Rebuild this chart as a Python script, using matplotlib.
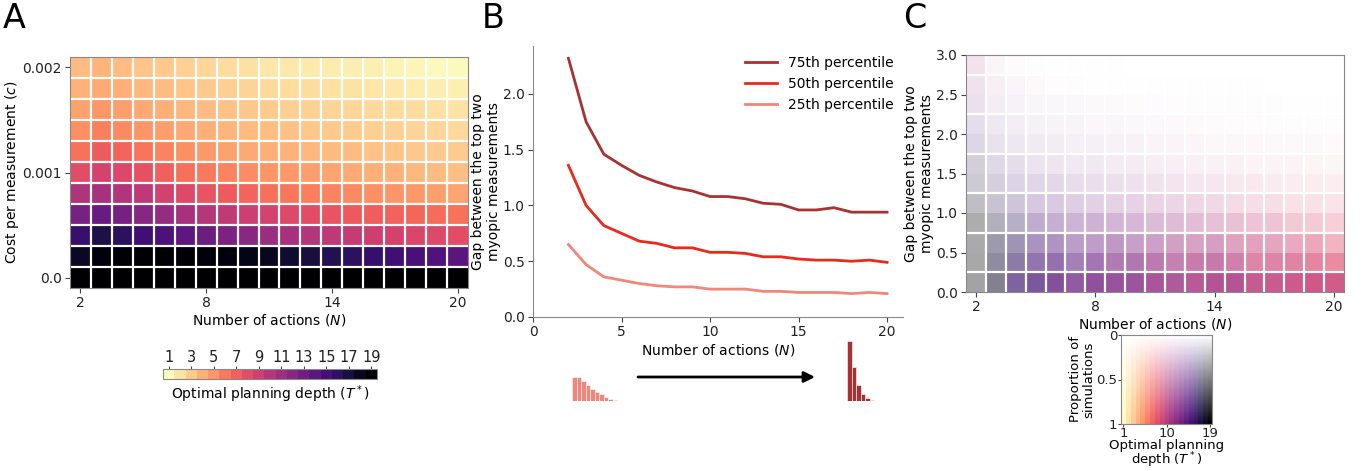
import numpy as np
import matplotlib
matplotlib.use("Agg")
import matplotlib.pyplot as plt
from matplotlib.colors import BoundaryNorm, ListedColormap
from matplotlib.cm import ScalarMappable

# ---- data ----
n_actions = [2, 3, 4, 5, 6, 7, 8, 9, 10, 11, 12, 13, 14, 15, 16, 17, 18, 19, 20]
cost_values = [0.0, 0.0002, 0.0004, 0.0006, 0.0008, 0.001, 0.0012, 0.0014, 0.0016, 0.0018, 0.002]
cost_ticks = [0.0, 0.001, 0.002]
cost_ticklabels = ["0.0", "0.001", "0.002"]

# optimal planning depth, rows = cost (bottom to top), cols = N
depth_a = [
    [19, 19, 19, 19, 19, 19, 19, 19, 19, 19, 19, 19, 19, 19, 19, 19, 19, 19, 19],
    [17.8, 18.6, 18.8, 18.8, 18.8, 18.8, 18.7, 18.5, 18.2, 17.9, 17.4, 16.9, 16.4, 16.0, 15.6, 15.2, 14.8, 14.4, 14.0],
    [15.5, 16.7, 16.0, 15.2, 14.6, 13.8, 13.2, 12.5, 11.9, 11.2, 10.6, 10.1, 9.7, 9.3, 9.0, 8.7, 8.4, 8.2, 7.9],
    [12.7, 13.4, 12.8, 12.0, 11.4, 10.6, 10.0, 9.5, 9.0, 8.6, 8.2, 7.9, 7.6, 7.3, 7.1, 6.9, 6.7, 6.5, 6.3],
    [10.3, 10.7, 10.2, 9.6, 8.8, 8.2, 7.6, 7.2, 6.8, 6.4, 6.1, 5.8, 5.6, 5.4, 5.2, 5.0, 4.8, 4.6, 4.4],
    [8.0, 8.6, 8.3, 7.8, 7.0, 6.4, 6.0, 5.6, 5.3, 5.0, 4.8, 4.6, 4.4, 4.2, 4.0, 3.9, 3.7, 3.6, 3.4],
    [6.3, 7.2, 6.8, 6.2, 5.6, 5.2, 4.8, 4.5, 4.3, 4.0, 3.9, 3.7, 3.6, 3.5, 3.3, 3.2, 3.1, 3.0, 2.9],
    [5.2, 5.8, 5.4, 5.0, 4.6, 4.3, 4.0, 3.8, 3.6, 3.4, 3.3, 3.1, 3.0, 2.9, 2.8, 2.7, 2.6, 2.5, 2.4],
    [4.5, 4.9, 4.6, 4.3, 4.0, 3.7, 3.5, 3.3, 3.1, 2.9, 2.8, 2.7, 2.6, 2.5, 2.4, 2.3, 2.2, 2.1, 2.0],
    [3.9, 4.2, 4.0, 3.7, 3.5, 3.2, 3.0, 2.8, 2.6, 2.4, 2.3, 2.2, 2.1, 2.0, 1.9, 1.8, 1.7, 1.6, 1.5],
    [3.5, 3.8, 3.5, 3.2, 3.0, 2.7, 2.5, 2.3, 2.1, 1.9, 1.8, 1.75, 1.7, 1.6, 1.5, 1.4, 1.3, 1.2, 1.1],
]

p75 = [2.32, 1.75, 1.46, 1.36, 1.27, 1.21, 1.16, 1.13, 1.08, 1.08, 1.06, 1.02, 1.01, 0.96, 0.96, 0.98, 0.94, 0.94, 0.94]
p50 = [1.36, 1.00, 0.82, 0.75, 0.68, 0.66, 0.62, 0.62, 0.58, 0.58, 0.57, 0.54, 0.54, 0.52, 0.51, 0.51, 0.50, 0.51, 0.49]
p25 = [0.65, 0.47, 0.36, 0.33, 0.30, 0.28, 0.27, 0.27, 0.25, 0.25, 0.25, 0.23, 0.23, 0.22, 0.22, 0.22, 0.21, 0.22, 0.21]

hist_n2 = [0.19, 0.19, 0.16, 0.13, 0.10, 0.075, 0.053, 0.032, 0.016, 0.006, 0.003, 0.001]
hist_n20 = [0.48, 0.27, 0.13, 0.06, 0.025, 0.011, 0.004, 0.002, 0.001, 0.0006, 0.0004, 0.0002]

gap_edges = [0.0, 0.25, 0.5, 0.75, 1.0, 1.25, 1.5, 1.75, 2.0, 2.25, 2.5, 2.75, 3.0]

# mean optimal depth per (gap bin, N), rows bottom to top
depth_c = [
    [19, 17.5, 15.5, 15, 14, 13.5, 13, 12.5, 12.3, 11.5, 11.3, 10.7, 10.8, 10.7, 9.8, 9.6, 9.4, 9.2, 9.2],
    [19, 17, 16, 15, 14.5, 14, 13.5, 12.5, 12.3, 11.5, 11, 10.5, 10.5, 10, 9.2, 9.2, 9, 8.8, 8.2],
    [19, 17, 16, 15, 14.5, 14, 13.3, 12.8, 12.3, 11.8, 11.2, 10.6, 10.5, 9.8, 9.5, 9.3, 8.8, 8.5, 8.0],
    [19, 17, 16, 15, 14.3, 13.8, 13, 12.5, 12, 11.5, 11, 10.5, 10.3, 9.8, 9.5, 9.2, 8.8, 8.6, 8.2],
    [18, 16.5, 15.5, 14.5, 14, 13.3, 12.8, 12.3, 11.8, 11.3, 10.8, 10.3, 10, 9.5, 9.2, 9, 8.6, 8.4, 8],
    [17, 16, 15, 14.5, 14, 13.3, 12.8, 12.3, 11.8, 11.3, 10.8, 10.3, 10, 9.5, 9.2, 9, 8.6, 8.4, 8],
    [16.5, 15.5, 14.5, 14, 13.5, 13, 12.5, 12, 11.5, 11, 10.5, 10, 9.7, 9.3, 9, 8.7, 8.4, 8.2, 8],
    [15.5, 15, 14.5, 14, 13.5, 13, 12.5, 12, 11.5, 11, 10.5, 10, 9.7, 9.3, 9, 8.7, 8.4, 8.2, 8],
    [14.5, 13.5, 14, 13.5, 13, 12.5, 12, 11.5, 11, 10.5, 10, 9.5, 9, 8.8, 8.6, 8.4, 8.2, 8, 7.8],
    [13.5, 12.5, 12, 13, 12.5, 12, 11.5, 11, 10.5, 10, 9.7, 9.4, 9, 8.7, 8.4, 8.1, 7.8, 7.6, 7.5],
    [12, 10.5, 10, 9, 9, 9, 9, 9, 9, 9, 9, 9, 9, 9, 9, 9, 9, 9, 9],
    [10.5, 9, 8, 7, 7, 7, 7, 7, 7, 7, 7, 7, 7, 7, 7, 7, 7, 7, 7],
]
# proportion of simulations per (gap bin, N)
prop_c = [
    [0.36, 0.52, 0.65, 0.70, 0.75, 0.72, 0.78, 0.78, 0.78, 0.80, 0.78, 0.80, 0.82, 0.83, 0.82, 0.83, 0.84, 0.86, 0.84],
    [0.34, 0.48, 0.55, 0.58, 0.60, 0.55, 0.60, 0.60, 0.62, 0.62, 0.60, 0.64, 0.65, 0.63, 0.62, 0.63, 0.64, 0.64, 0.63],
    [0.33, 0.42, 0.45, 0.45, 0.45, 0.42, 0.43, 0.46, 0.44, 0.44, 0.45, 0.45, 0.47, 0.46, 0.47, 0.46, 0.45, 0.47, 0.42],
    [0.32, 0.33, 0.34, 0.34, 0.34, 0.32, 0.34, 0.33, 0.33, 0.32, 0.32, 0.32, 0.31, 0.31, 0.30, 0.30, 0.28, 0.28, 0.26],
    [0.26, 0.25, 0.24, 0.23, 0.23, 0.22, 0.21, 0.20, 0.21, 0.20, 0.20, 0.20, 0.19, 0.18, 0.17, 0.17, 0.16, 0.16, 0.15],
    [0.22, 0.20, 0.18, 0.17, 0.17, 0.15, 0.15, 0.14, 0.14, 0.13, 0.13, 0.12, 0.12, 0.11, 0.11, 0.10, 0.10, 0.10, 0.10],
    [0.20, 0.16, 0.14, 0.12, 0.11, 0.10, 0.10, 0.09, 0.09, 0.08, 0.08, 0.07, 0.07, 0.07, 0.06, 0.06, 0.06, 0.06, 0.05],
    [0.17, 0.12, 0.10, 0.09, 0.08, 0.07, 0.07, 0.06, 0.06, 0.05, 0.05, 0.05, 0.04, 0.04, 0.04, 0.035, 0.03, 0.03, 0.03],
    [0.14, 0.10, 0.07, 0.06, 0.05, 0.05, 0.04, 0.04, 0.035, 0.03, 0.03, 0.025, 0.02, 0.015, 0.012, 0.01, 0.01, 0.008, 0.008],
    [0.13, 0.08, 0.06, 0.04, 0.035, 0.03, 0.025, 0.02, 0.017, 0.015, 0.012, 0.01, 0.009, 0.008, 0.007, 0.006, 0.005, 0.004, 0.004],
    [0.13, 0.08, 0.05, 0.03, 0.012, 0.008, 0.005, 0.004, 0.003, 0.002, 0.002, 0.001, 0.001, 0.001, 0.001, 0.0, 0.0, 0.0, 0.0],
    [0.14, 0.05, 0.02, 0.01, 0.003, 0.002, 0.001, 0.001, 0.0, 0.0, 0.0, 0.0, 0.0, 0.0, 0.0, 0.0, 0.0, 0.0, 0.0],
]

W, H = 1364, 471
plt.rcParams["font.family"] = ["DejaVu Sans"]
plt.rcParams["font.size"] = 10
plt.rcParams["xtick.labelsize"] = 10
plt.rcParams["ytick.labelsize"] = 10
plt.rcParams["axes.edgecolor"] = "#888888"
plt.rcParams["xtick.color"] = "#444444"
plt.rcParams["ytick.color"] = "#444444"
plt.rcParams["xtick.labelcolor"] = "#222222"
plt.rcParams["ytick.labelcolor"] = "#222222"
plt.rcParams["xtick.major.pad"] = 2.5
plt.rcParams["ytick.major.pad"] = 2.5

fig = plt.figure(figsize=(W / 100, H / 100), dpi=100)


def px_axes(left, top, right, bottom):
    return fig.add_axes([left / W, 1 - bottom / H, (right - left) / W, (bottom - top) / H])


cmap = plt.get_cmap("magma_r")
dx = 0.5
dc = 0.0001

# ---- panel A ----
ax_a = px_axes(70, 57, 468, 288)
ax_a.imshow(np.array(depth_a), cmap=cmap, vmin=1, vmax=19, origin="lower", aspect="auto",
            extent=[n_actions[0] - dx, n_actions[-1] + dx, cost_values[0] - dc, cost_values[-1] + dc],
            interpolation="nearest")
ax_a.set_xticks([2, 8, 14, 20])
ax_a.set_yticks(cost_ticks)
ax_a.set_yticklabels(cost_ticklabels)
ax_a.set_xticks([n + dx for n in n_actions[:-1]], minor=True)
ax_a.set_yticks([c + dc for c in cost_values[:-1]], minor=True)
ax_a.grid(which="minor", color="white", lw=1.6)
ax_a.tick_params(which="minor", length=0)
ax_a.set_xlabel("Number of actions ($N$)", labelpad=1)
ax_a.set_ylabel("Cost per measurement ($c$)")
ax_a.yaxis.set_label_coords(-0.122, 0.5)

# discrete colorbar
cax = px_axes(163, 369, 377, 379)
bounds = np.arange(0.5, 20.5, 1)
dcmap = ListedColormap(cmap(np.linspace(0, 1, 19)))
sm = ScalarMappable(norm=BoundaryNorm(bounds, dcmap.N), cmap=dcmap)
cb = fig.colorbar(sm, cax=cax, orientation="horizontal", ticks=list(range(1, 20, 2)))
cb.outline.set_edgecolor("#888888")
cax.xaxis.set_ticks_position("top")
cax.xaxis.set_label_position("bottom")
cax.tick_params(length=2, pad=1, labelsize=10.5)
cax.minorticks_off()
cb.set_label("Optimal planning depth ($T^*$)", labelpad=3)

# ---- panel B ----
ax_b = px_axes(533, 46, 903, 317)
ax_b.plot(n_actions, p75, color="#a83232", lw=2, label="75th percentile")
ax_b.plot(n_actions, p50, color="#e8291c", lw=2, label="50th percentile")
ax_b.plot(n_actions, p25, color="#f1877a", lw=2, label="25th percentile")
ax_b.set_xlim(0, 20.9)
ax_b.set_ylim(0, 2.43)
ax_b.set_xticks([0, 5, 10, 15, 20])
ax_b.set_yticks([0.0, 0.5, 1.0, 1.5, 2.0])
ax_b.spines["top"].set_visible(False)
ax_b.spines["right"].set_visible(False)
ax_b.set_xlabel("Number of actions ($N$)", labelpad=2)
ax_b.set_ylabel("Gap between the top two\nmyopic measurements", labelpad=1)
ax_b.legend(loc="upper right", frameon=False, fontsize=10, handlelength=2.3,
            borderaxespad=0.3)

h1 = px_axes(572, 338.5, 626, 401)
h1.bar(range(len(hist_n2)), hist_n2, width=1, color="#f1877a", edgecolor="white", lw=0.4)
h2 = px_axes(847, 338.5, 901, 401)
h2.bar(range(len(hist_n20)), hist_n20, width=1, color="#a83232", edgecolor="white", lw=0.4)
for h in (h1, h2):
    h.set_xlim(-0.5, 11.5)
    h.set_ylim(0, 0.5)
    h.axis("off")

ax_b.annotate("", xy=(815 / W, 1 - 377 / H), xytext=(638 / W, 1 - 377 / H),
              xycoords="figure fraction", textcoords="figure fraction",
              arrowprops=dict(arrowstyle="-|>", color="black", lw=2, mutation_scale=16,
                              shrinkA=0, shrinkB=0))

# ---- panel C ----
ax_c = px_axes(966, 55, 1344, 292)
base = cmap((np.array(depth_c) - 1) / 18)[..., :3]
rgb = 1 - np.array(prop_c)[..., None] * (1 - base)
ax_c.imshow(rgb, origin="lower", aspect="auto",
            extent=[n_actions[0] - dx, n_actions[-1] + dx, gap_edges[0], gap_edges[-1]],
            interpolation="nearest")
ax_c.set_xticks([2, 8, 14, 20])
ax_c.set_yticks([0.0, 0.5, 1.0, 1.5, 2.0, 2.5, 3.0])
ax_c.set_xticks([n + dx for n in n_actions[:-1]], minor=True)
ax_c.set_yticks(gap_edges[1:-1], minor=True)
ax_c.grid(which="minor", color="white", lw=1.6)
ax_c.tick_params(which="minor", length=0)
ax_c.set_xlabel("Number of actions ($N$)", labelpad=1)
ax_c.set_ylabel("Gap between the top two\nmyopic measurements", labelpad=1)

# 2D colour key
ax_k = px_axes(1121, 335, 1212, 424)
key_p = np.linspace(0, 1, 100)
key_base = cmap(np.linspace(0, 1, 19))[:, :3]
key_rgb = 1 - key_p[:, None, None] * (1 - key_base[None, :, :])
ax_k.imshow(key_rgb, aspect="auto", extent=[0.5, 19.5, 1, 0], interpolation="nearest")
ax_k.set_xticks([1, 10, 19])
ax_k.set_yticks([0, 0.5, 1])
ax_k.set_yticklabels(["0", "0.5", "1"])
ax_k.tick_params(length=2, pad=0.5, labelsize=9.5)
ax_k.set_xlabel("Optimal planning\ndepth ($T^*$)", fontsize=9.5, linespacing=0.9)
ax_k.xaxis.set_label_coords(0.5, -0.17)
ax_k.set_ylabel("Proportion of\nsimulations", fontsize=9.5, labelpad=1, linespacing=1.0)

# panel letters
fig.text(3 / W, 1 - 2 / H, "A", fontsize=24, va="top", ha="left")
fig.text(482 / W, 1 - 2 / H, "B", fontsize=24, va="top", ha="left")
fig.text(903 / W, 1 - 2 / H, "C", fontsize=24, va="top", ha="left")

fig.savefig("out.png", dpi=100)
